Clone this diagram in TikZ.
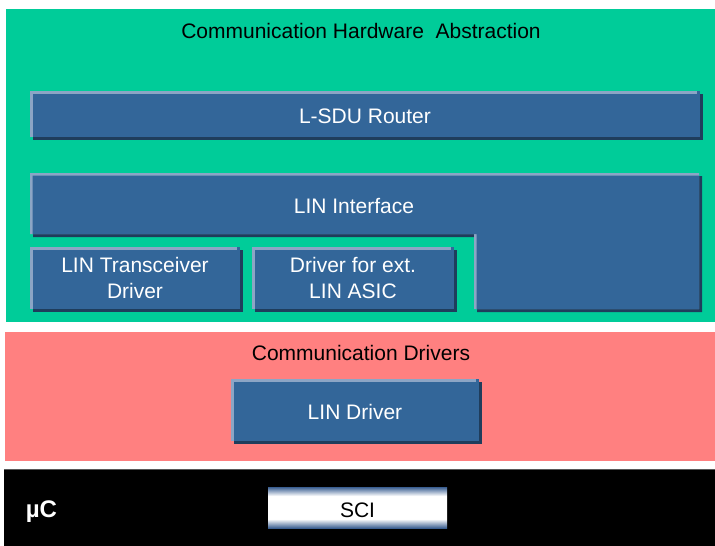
\documentclass[tikz,border=0pt]{standalone}
\usepackage{fontspec}
\setmainfont{Liberation Sans}
\usetikzlibrary{shadows}
\definecolor{hwgreen}{RGB}{0,204,153}
\definecolor{drvpink}{RGB}{255,128,128}
\definecolor{boxblue}{RGB}{51,102,153}
\definecolor{edgec}{RGB}{140,165,197}
\definecolor{shadowc}{RGB}{31,61,92}
\definecolor{sciblue}{RGB}{58,94,145}
\pgfdeclareverticalshading{scish}{100bp}{color(0bp)=(sciblue); color(25bp)=(sciblue); color(36bp)=(white); color(64bp)=(white); color(75bp)=(sciblue); color(100bp)=(sciblue)}
\tikzset{
  lbl/.style={font=\fontsize{21}{25.5}\selectfont, align=center, inner sep=0pt},
  lowtext/.style={text height=19pt, text depth=0pt},
  blk/.style={lbl, rectangle, text=white, fill=boxblue,
    drop shadow={shadow xshift=3pt, shadow yshift=-3pt, fill=shadowc, opacity=1},
    path picture={
      \fill[edgec] (path picture bounding box.south west) rectangle ([xshift=2.5pt]path picture bounding box.north west);
      \fill[edgec] ([yshift=-2.5pt]path picture bounding box.north west) rectangle ([xshift=-3pt]path picture bounding box.north east);
    }}
}
\begin{document}
\begin{tikzpicture}[x=1pt,y=-1pt]
\useasboundingbox (0,0) rectangle (715,546);
\fill[white] (0,0) rectangle (715,546);
% bands
\fill[hwgreen] (6,9) rectangle (715,322);
\fill[drvpink] (5,332) rectangle (715,461);
\fill[black] (4,469) rectangle (715,546);
\draw[gray!70!black, line width=0.6pt] (4,469) -- (715,469);
% band titles
\node[lbl] (hwtitle) at (361,31) {Communication Hardware\ \ Abstraction};
\node[lbl] (drvtitle) at (361,353) {Communication Drivers};
\node[lbl, text=white, font=\fontsize{24}{28}\selectfont\bfseries] (uc) at (41.5,512) {µC};
% L-SDU Router
\node[blk, lowtext, minimum width=670pt, minimum height=46pt] (router) at (365,114) {L-SDU Router};
% LIN Interface L-shape
\fill[shadowc] (33,176) -- (702,176) -- (702,312) -- (477,312) -- (477,237) -- (33,237) -- cycle;
\fill[edgec] (30,173) -- (699,173) -- (699,309) -- (474,309) -- (474,234) -- (30,234) -- cycle;
\fill[boxblue] (32.5,175.5) -- (699,175.5) -- (699,309) -- (476.5,309) -- (476.5,234) -- (32.5,234) -- cycle;
\node[lbl, text=white] (linif) at (354,206.5) {LIN Interface};
% lower boxes
\node[blk, minimum width=210pt, minimum height=62pt] (trcv) at (135,278) {LIN Transceiver\\Driver};
\node[blk, minimum width=202pt, minimum height=62pt] (asic) at (353,278) {Driver for ext.\\LIN ASIC};
\node[blk, lowtext, minimum width=248pt, minimum height=62pt] (lindrv) at (355,410) {LIN Driver};
% SCI
\node[lbl, lowtext, rectangle, shading=scish, minimum width=179pt, minimum height=41pt] (sci) at (357.5,507.5) {SCI};
\end{tikzpicture}
\end{document}
